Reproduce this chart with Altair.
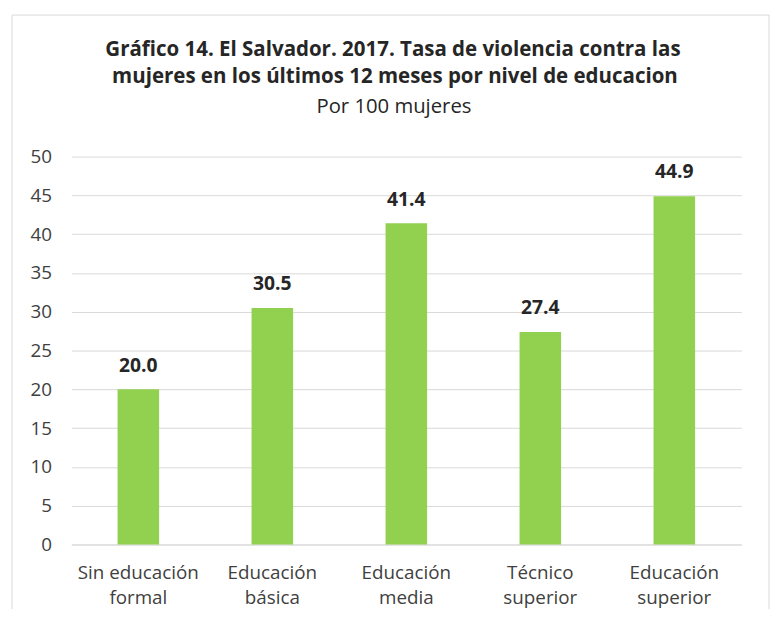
import altair as alt
import pandas as pd

categories = ["Sin educación\nformal", "Educación\nbásica", "Educación\nmedia", "Técnico\nsuperior", "Educación\nsuperior"]
values = [20.0, 30.5, 41.4, 27.4, 44.9]
title_lines = ["Gráfico 14. El Salvador. 2017. Tasa de violencia contra las",
               "mujeres  en los últimos 12 meses por nivel de educacion"]
subtitle = "Por 100 mujeres"

df = pd.DataFrame({"nivel": categories, "tasa": values})

FONT = "Open Sans"
one = pd.DataFrame({"a": [0]})

frame = alt.Chart(one).mark_rect(
    fillOpacity=0, stroke="#d9d9d9", strokeWidth=1
).encode(
    x=alt.value(-60), x2=alt.value(705), y=alt.value(-143), y2=alt.value(480)
)

t1 = alt.Chart(one).mark_text(font=FONT, fontSize=20.7, fontWeight="bold",
                              color="#262626", baseline="middle").encode(
    x=alt.value(325), y=alt.value(-108), text=alt.value(title_lines[0]))
t2 = alt.Chart(one).mark_text(font=FONT, fontSize=20.7, fontWeight="bold",
                              color="#262626", baseline="middle").encode(
    x=alt.value(327), y=alt.value(-80), text=alt.value(title_lines[1]))
t3 = alt.Chart(one).mark_text(font=FONT, fontSize=20.5, color="#262626",
                              baseline="middle").encode(
    x=alt.value(326), y=alt.value(-50), text=alt.value(subtitle))

base = alt.Chart(df).encode(
    x=alt.X("nivel:N", sort=categories, title=None,
            scale=alt.Scale(paddingInner=0.69, paddingOuter=0.345),
            axis=alt.Axis(labelAngle=0, labelExpr="split(datum.label, '\\n')",
                          labelFontSize=19, labelColor="#404040", labelFont=FONT,
                          labelPadding=19, labelLineHeight=26, ticks=False,
                          domainColor="#d9d9d9", labelLimit=200)),
    y=alt.Y("tasa:Q", title=None,
            scale=alt.Scale(domain=[0, 50], nice=False),
            axis=alt.Axis(values=list(range(0, 55, 5)), labelFontSize=19,
                          labelColor="#404040", labelFont=FONT, labelPadding=20,
                          ticks=False, domain=False, gridColor="#d9d9d9",
                          gridWidth=1)),
)

bars = base.mark_bar(color="#92D050")
labels = base.mark_text(baseline="middle", dy=-24, fontSize=19.5, fontWeight="bold",
                        font=FONT, color="#262626").encode(
    text=alt.Text("tasa:Q", format=".1f"))

chart = alt.layer(frame, t1, t2, t3, bars, labels).properties(
    width=677, height=392,
    background="white",
    autosize=alt.AutoSizeParams(type="none"),
    padding={"left": 64, "top": 147, "right": 30, "bottom": 62},
).configure_view(stroke="transparent")

chart.save("out.html", embed_options={"renderer": "svg", "actions": False})
